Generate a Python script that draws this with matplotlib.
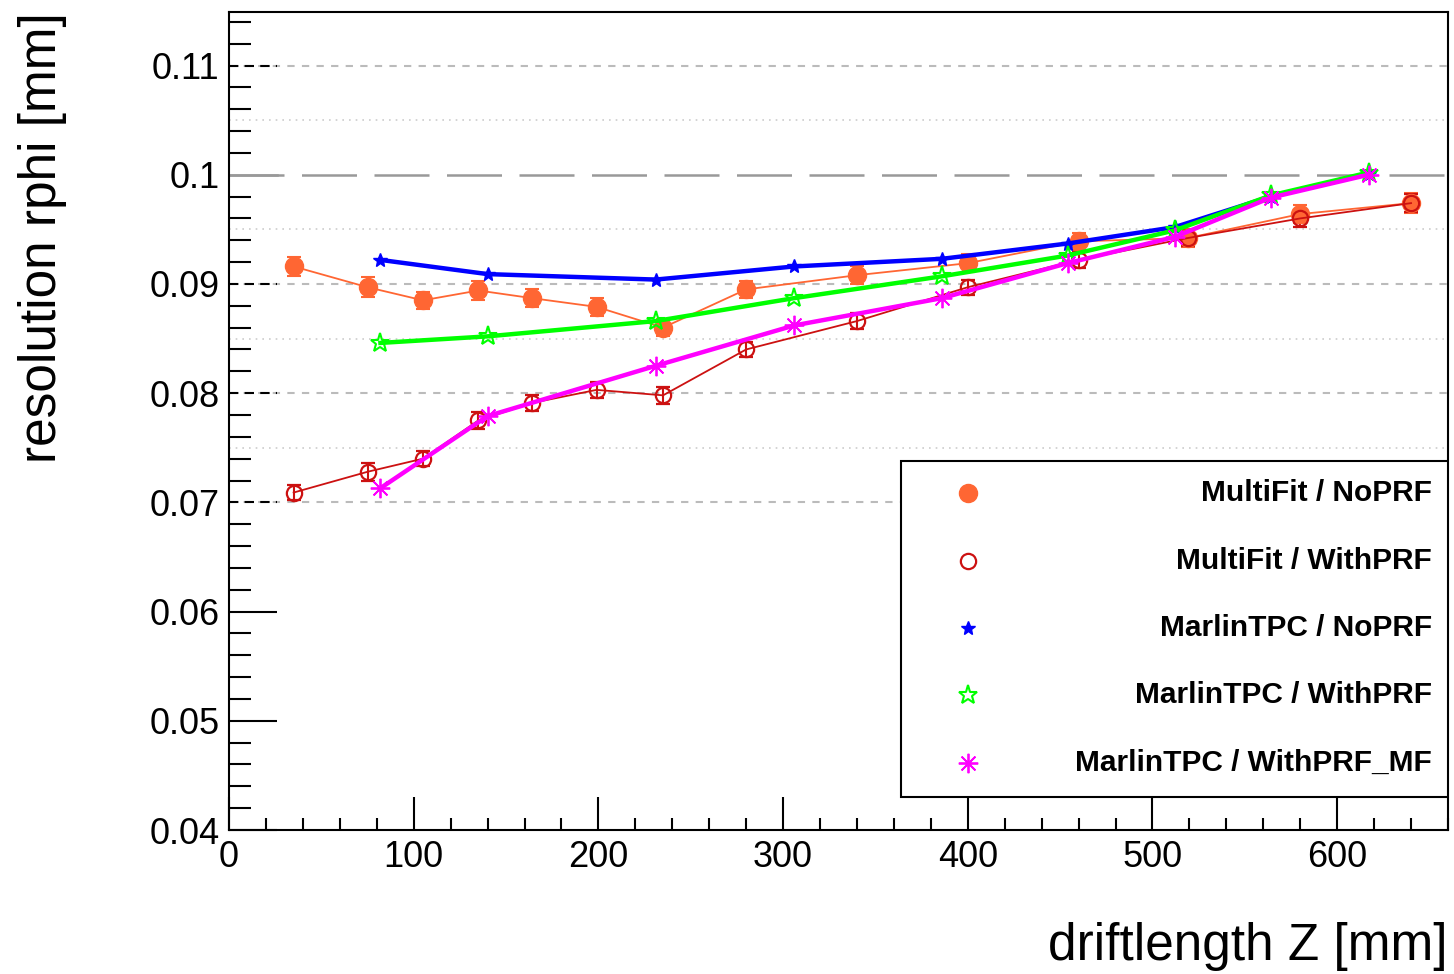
import matplotlib
matplotlib.use("Agg")
import matplotlib.pyplot as plt
from matplotlib.patches import Rectangle
from matplotlib.ticker import MultipleLocator

plt.rcParams['font.family'] = ['Liberation Sans', 'DejaVu Sans']

# ---- data ----
z_multifit = [35, 75, 105, 135, 164, 199, 235, 280, 340, 400, 460, 519, 580, 640]
res_mf_noprf = [0.0916, 0.0897, 0.0885, 0.0894, 0.0887, 0.0879, 0.0860,
                0.0895, 0.0908, 0.0919, 0.0939, 0.0942, 0.0964, 0.0974]
res_mf_withprf = [0.0709, 0.0728, 0.0740, 0.0775, 0.0791, 0.0803, 0.0798,
                  0.0840, 0.0866, 0.0897, 0.0922, 0.0942, 0.0960, 0.0974]
err_mf_noprf = [0.0009, 0.0009, 0.0008, 0.0009, 0.0008, 0.0008, 0.0008,
                0.0008, 0.0008, 0.0008, 0.0008, 0.0008, 0.0008, 0.0009]
err_mf_withprf = [0.0007, 0.0008, 0.0007, 0.0008, 0.0007, 0.0007, 0.0008,
                  0.0007, 0.0007, 0.0007, 0.0007, 0.0007, 0.0008, 0.0008]

z_marlin = [82, 140, 231, 306, 386, 454, 512, 564, 617]
res_mt_noprf = [0.0922, 0.0909, 0.0904, 0.0916, 0.0923, 0.0937, 0.0952, 0.0980, 0.1001]
res_mt_withprf = [0.0846, 0.0852, 0.0866, 0.0887, 0.0907, 0.0926, 0.0949, 0.0981, 0.1002]
res_mt_withprf_mf = [0.0713, 0.0779, 0.0825, 0.0862, 0.0887, 0.0919, 0.0943, 0.0979, 0.1000]

labels = ['MultiFit / NoPRF', 'MultiFit / WithPRF', 'MarlinTPC / NoPRF',
          'MarlinTPC / WithPRF', 'MarlinTPC / WithPRF_MF']

c_orange = '#FF6633'
c_red = '#CC1111'
c_blue = '#0000FF'
c_green = '#00FF00'
c_magenta = '#FF00FF'

fig = plt.figure(figsize=(14.54, 9.74), dpi=100)
ax = fig.add_axes([229 / 1454, 1 - 830 / 974, 1219 / 1454, 818 / 974])

ax.set_xlim(0, 660)
ax.set_ylim(0.04, 0.1149)

# reference lines
for yv in [0.07, 0.08, 0.09, 0.11]:
    ax.axhline(yv, color='#BBBBBB', lw=1.5, ls=(0, (3.5, 3.5)), zorder=1)
    ax.axhline(yv, xmin=0, xmax=48 / 1219, color='black', lw=1.5,
               ls=(0, (4.5, 3)), zorder=2)
for yv in [0.075, 0.085, 0.095, 0.105]:
    ax.axhline(yv, color='#CCCCCC', lw=1.2, ls=(0, (1, 3)), zorder=1)
ax.axhline(0.1, color='#999999', lw=1.8, ls=(0, (22, 7)), zorder=1)
ax.axhline(0.1, xmin=0, xmax=48 / 1219, color='#999999', lw=1.8, zorder=2)

# MultiFit curves (thin lines, error bars)
ax.errorbar(z_multifit, res_mf_noprf, yerr=err_mf_noprf, color=c_orange,
            lw=1.3, marker='o', ms=13, mfc=c_orange, mec=c_orange,
            elinewidth=1.5, capsize=5, capthick=1.5, zorder=4)
ax.errorbar(z_multifit, res_mf_withprf, yerr=err_mf_withprf, color=c_red,
            lw=1.3, marker='o', ms=11, mfc='none', mec=c_red, mew=1.6,
            elinewidth=1.5, capsize=5, capthick=1.5, zorder=4)

# MarlinTPC curves (thick lines)
ax.plot(z_marlin, res_mt_noprf, color=c_blue, lw=3.2, marker='*', ms=10,
        mfc=c_blue, mec=c_blue, zorder=5)
ax.plot(z_marlin, res_mt_withprf, color=c_green, lw=3.2, marker='*', ms=14,
        mfc='none', mec=c_green, mew=1.5, zorder=6)
ax.plot(z_marlin, res_mt_withprf_mf, color=c_magenta, lw=3.2, marker=(8, 2, 0),
        ms=14, mec=c_magenta, mew=1.3, zorder=7)

# axes style
ax.xaxis.set_major_locator(MultipleLocator(100))
ax.xaxis.set_minor_locator(MultipleLocator(20))
ax.yaxis.set_major_locator(MultipleLocator(0.01))
ax.yaxis.set_minor_locator(MultipleLocator(0.002))
ax.yaxis.set_major_formatter(matplotlib.ticker.FuncFormatter(lambda v, p: f'{v:.2f}'.rstrip('0').rstrip('.') if abs(v - 0.1) < 1e-9 else f'{v:.2f}'))
ax.tick_params(axis='both', which='both', direction='in', top=False, right=False,
               labelsize=26, width=1.5, colors='black')
ax.tick_params(axis='y', which='major', length=34.5, pad=7)
ax.tick_params(axis='y', which='minor', length=15.8)
ax.tick_params(axis='x', which='major', length=23.8, pad=7)
ax.tick_params(axis='x', which='minor', length=9)
fig.canvas.draw()
for t in ax.yaxis.get_major_ticks():
    if round(t.get_loc(), 3) in (0.07, 0.08, 0.09, 0.1, 0.11):
        t.tick1line.set_markersize(0)
for sp in ax.spines.values():
    sp.set_linewidth(1.5)

ax.set_xlabel('driftlength Z [mm]', fontsize=37, loc='right')
ax.xaxis.set_label_coords(1.0, -0.113)
ax.set_ylabel('resolution rphi [mm]', fontsize=37, loc='top', va='center')
ax.yaxis.set_label_coords(-0.153, 1.0)

# legend box (ROOT style, text right aligned)
ax.add_patch(Rectangle((0.551, 0.0403), 0.449, 0.411, transform=ax.transAxes,
                       facecolor='white', edgecolor='black', lw=1.5, zorder=10))
rows = [0.412, 0.329, 0.247, 0.165, 0.082]
styles = [dict(marker='o', ms=13, mfc=c_orange, mec=c_orange),
          dict(marker='o', ms=11, mfc='none', mec=c_red, mew=1.6),
          dict(marker='*', ms=10, mfc=c_blue, mec=c_blue),
          dict(marker='*', ms=14, mfc='none', mec=c_green, mew=1.5),
          dict(marker=(8, 2, 0), ms=14, mec=c_magenta, mew=1.3)]
for yr, lab, st in zip(rows, labels, styles):
    ax.plot([0.606], [yr], transform=ax.transAxes, ls='none', zorder=11,
            clip_on=False, **st)
    ax.text(0.987, yr, lab, transform=ax.transAxes, ha='right', va='center',
            fontsize=21.5, fontweight='bold', zorder=11)

fig.savefig('out.png', dpi=100)
